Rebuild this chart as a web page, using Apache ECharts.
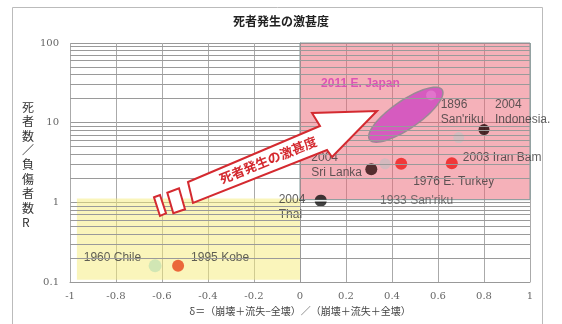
<!DOCTYPE html>
<html><head><meta charset="utf-8">
<script src="https://cdn.jsdelivr.net/npm/echarts@6/dist/echarts.min.js"></script>
<style>html,body{margin:0;padding:0;background:#fff}#c{width:562px;height:324px}</style>
</head><body><div id="c"></div>
<script>
// ---- data ----
const xTickLabels = ['-1','-0.8','-0.6','-0.4','-0.2','0','0.2','0.4','0.6','0.8','1'];
const yTickLabels = ['0.1','1','10','100'];
const eventNames = ['1960 Chile','1995 Kobe','2004\nThai','2004\nSri Lanka',"1933 San'riku",'1976 E. Turkey','2003 Iran Bam',"1896\nSan'riku",'2004\nIndonesia.','2011 E. Japan'];
const deltaValues = [-0.63,-0.53,0.09,0.31,0.37,0.44,0.66,0.69,0.80,0.57];
const ratioValues = [0.16,0.16,1.05,2.6,3.05,3.05,3.1,6.5,8.2,22];
const eJapanRange = [0.46, 12.6];
const severeZone = [[0, 1.08],[1, 100]];
const mildZone = [[-0.97, 0.107],[0, 1.12]];
const minorGridValues = [0.2,0.3,0.4,0.5,0.6,0.7,0.8,0.9,2,3,4,5,6,7,8,9,20,30,40,50,60,70,80,90];
const titleText = '死者発生の激甚度';
const yTitle = '死者数／負傷者数R';
const xTitle = 'δ＝（崩壊＋流失−全壊）／（崩壊＋流失＋全壊）';
const arrowText = '死者発生の激甚度';

// ---- styles ----
const thaiSymbol = 'path://M-0.989,-0.15 A1,1 0 0 1 0.989,-0.15 Z M-0.989,0.15 A1,1 0 0 0 0.989,0.15 Z';
const pointStyles = [
  {color:'#c8e3b3', size:13, off:[-14,-15.5], align:'right'},
  {color:'#e8461c', size:12, off:[13,-15.5], align:'left'},
  {color:'#111111', size:12, off:[-42,-8], align:'left', symbol:thaiSymbol},
  {color:'#2e0c0c', size:12, off:[-60,-19], align:'left'},
  {color:'#cdbcc0', size:11, off:[-5,29], align:'left', textColor:'#555'},
  {color:'#f01a1a', size:12, off:[12,10], align:'left'},
  {color:'#f01a1a', size:12, off:[11,-13], align:'left'},
  {color:'#cdbfc2', size:11, off:[-18,-40], align:'left'},
  {color:'#1e0505', size:11, off:[11,-32], align:'left'},
  {color:'#e47ad0', size:10, off:[-110,-19], align:'left', textColor:'#d63fb4', bold:true}
];

const points = deltaValues.map((d, i) => {
  const s = pointStyles[i];
  return {
    value: [d, ratioValues[i]],
    symbol: s.symbol || 'circle',
    symbolSize: s.size,
    itemStyle: {color: s.color},
    label: {
      show: true,
      formatter: eventNames[i],
      position: [s.off[0] + s.size/2, s.off[1] + s.size/2],
      align: s.align, verticalAlign: 'top',
      color: s.textColor || '#3a3a3a',
      fontWeight: s.bold ? 'bold' : 'normal',
      fontFamily: 'Liberation Sans', fontSize: 12, lineHeight: 15
    }
  };
});

const chart = echarts.init(document.getElementById('c'), null, {renderer:'canvas'});
const option = {
  animation: false,
  title: {text: titleText, left: 'center', top: 10,
    textStyle: {fontFamily:'Noto Sans CJK JP', fontSize: 12, fontWeight:'bold', color:'#222'}},
  grid: {left: 70, right: 32, top: 43, bottom: 42},
  xAxis: {
    type:'value', min:-1, max:1, interval:0.2,
    axisLine:{show:true, onZero:false, lineStyle:{color:'#999'}},
    axisTick:{show:false},
    splitLine:{show:true, lineStyle:{color:'#aaa', width:1}},
    axisLabel:{formatter: v => xTickLabels[Math.round((v+1)/0.2)], fontFamily:'DejaVu Serif', fontSize:10, color:'#666', margin:9},
    name: xTitle, nameLocation:'middle', nameGap: 24,
    nameTextStyle:{fontFamily:'Noto Sans CJK JP', fontSize:10, color:'#444'}
  },
  yAxis: {
    type:'log', logBase:10, min:0.1, max:100,
    axisLine:{show:true, lineStyle:{color:'#999'}},
    axisTick:{show:false},
    splitLine:{show:true, lineStyle:{color:'#999', width:1}},
    axisLabel:{formatter: v => yTickLabels[Math.round(Math.log10(v))+1], fontFamily:'DejaVu Serif', fontSize:10, color:'#666', margin:11}
  },
  graphic: [
    {type:'rect', shape:{x:12.5, y:7.5, width:530, height:330}, style:{fill:null, stroke:'#bbb', lineWidth:1}, z:0, silent:true},
    {type:'text', left:22, top:100, style:{text: yTitle.split('').join('\n'), fontFamily:'Noto Sans CJK JP', fontSize:12, lineHeight:14.4, fill:'#333', align:'center'}, z:10},
    {type:'polygon', shape:{points:[[188,182],[320,126],[312,113],[377,111],[332,157],[327,150],[193,203]]}, style:{fill:'#fff', stroke:'#d42a30', lineWidth:2}, z:50},
    {type:'polygon', shape:{points:[[167.3,192.7],[179,188.3],[185,209.3],[173.3,213.3]]}, style:{fill:'#fff', stroke:'#d42a30', lineWidth:2}, z:50},
    {type:'polygon', shape:{points:[[154,197.3],[160,195],[166,213.3],[160,216]]}, style:{fill:'#fff', stroke:'#d42a30', lineWidth:2}, z:50},
    {type:'text', x:268, y:160, rotation: 22*Math.PI/180, style:{text: arrowText, fontFamily:'Noto Sans CJK JP', fontSize:13, fontWeight:'bold', fill:'#d42a30', align:'center', verticalAlign:'middle'}, z:51}
  ],
  series: [
    {type:'line', data:[], z:1, silent:true,
      markLine:{silent:true, symbol:['none','none'], label:{show:false},
        lineStyle:{color:'#9a9a9a', width:1, type:'solid'},
        data: minorGridValues.map(v => ({yAxis: v}))}},
    {type:'line', data:[], z:2, silent:true,
      markArea:{silent:true, data:[
        [{coord: severeZone[0], itemStyle:{color:'rgba(235,100,115,0.5)', borderColor:'#7f9a9a', borderWidth:1}}, {coord: severeZone[1]}],
        [{coord: mildZone[0], itemStyle:{color:'rgba(245,235,120,0.5)'}}, {coord: mildZone[1]}]
      ]}},
    {type:'custom', z:3, silent:true, data:[eJapanRange],
      renderItem(params, api){
        const c = api.coord([api.value(0), api.value(1)]);
        const a = 44, b = 14, th = -34.5*Math.PI/180, pts = [];
        for (let i = 0; i < 72; i++) {
          const t = i/72*2*Math.PI, ex = a*Math.cos(t), ey = b*Math.sin(t);
          pts.push([c[0] + ex*Math.cos(th) - ey*Math.sin(th), c[1] + ex*Math.sin(th) + ey*Math.cos(th)]);
        }
        return {type:'polygon', shape:{points:pts}, style:{fill:'#d65bbf', stroke:'#9a8a95', lineWidth:1.5}};
      }},
    {type:'scatter', z:4, data: points}
  ]
};
chart.setOption(option);
</script></body></html>
